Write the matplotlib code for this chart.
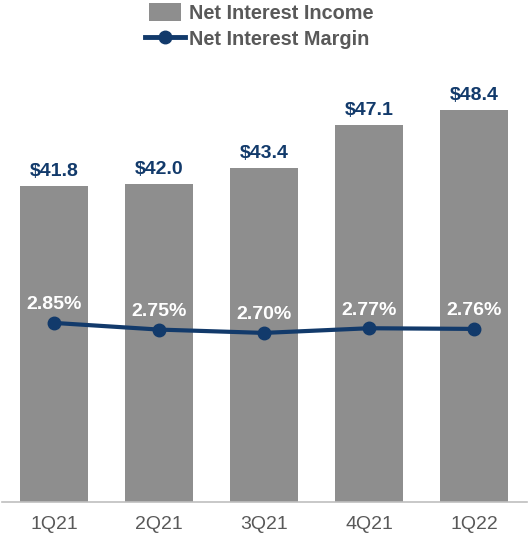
import matplotlib
matplotlib.use("Agg")
import matplotlib.pyplot as plt
from matplotlib.patches import Patch, Rectangle
from matplotlib.lines import Line2D
from matplotlib.legend_handler import HandlerPatch

quarters = ["1Q21", "2Q21", "3Q21", "4Q21", "1Q22"]
nii = [41.8, 42.0, 43.4, 47.1, 48.4]
nim = [2.85, 2.75, 2.70, 2.77, 2.76]
nii_labels = ["$41.8", "$42.0", "$43.4", "$47.1", "$48.4"]
nim_labels = ["2.85%", "2.75%", "2.70%", "2.77%", "2.76%"]

plt.rcParams['font.family'] = ['Liberation Sans', 'DejaVu Sans']

BAR = "#8E8E8E"
NAVY = "#123A6B"
TXT = "#595959"

fig = plt.figure(figsize=(5.31, 5.36), dpi=100)
ax = fig.add_axes([1.5/531, 34/536, 525/531, 442/536])
x = list(range(len(quarters)))
ax.bar(x, nii, width=0.65, color=BAR, zorder=1)
ax.set_xlim(-0.5, 4.5)
ax.set_ylim(14.37, 52.74)
for xi, v, lab in zip(x, nii, nii_labels):
    ax.annotate(lab, (xi, v), xytext=(0, 4), textcoords="offset points",
                ha="center", va="bottom", color=NAVY, fontsize=14, fontweight="bold")
ax.set_yticks([])
for s in ["top", "right", "left"]:
    ax.spines[s].set_visible(False)
ax.spines["bottom"].set_color("#BFBFBF")
ax.spines["bottom"].set_linewidth(1.2)
ax.set_xticks(x)
ax.set_xticklabels(quarters, color=TXT, fontsize=14)
ax.tick_params(axis="x", length=0, pad=10)

ax2 = ax.twinx()
ax2.set_ylim(0.166, 6.79)
ax2.plot(x, nim, color=NAVY, lw=3, marker="o", markersize=9, zorder=3)
for xi, v, lab in zip(x, nim, nim_labels):
    ax2.annotate(lab, (xi, v), xytext=(0, 7), textcoords="offset points",
                 ha="center", va="bottom", color="white", fontsize=14, fontweight="bold")
ax2.set_yticks([])
for s in ["top", "right", "left", "bottom"]:
    ax2.spines[s].set_visible(False)


def narrow_patch(legend, orig_handle, xdescent, ydescent, width, height, fontsize):
    w = width * 0.8
    return Rectangle((-xdescent + (width - w) / 2, -ydescent), w, height)


handles = [Patch(facecolor=BAR, edgecolor="none"),
           Line2D([0], [0], color=NAVY, lw=3.5, marker="o", markersize=9)]
fig.legend(handles, ["Net Interest Income", "Net Interest Margin"],
           loc="upper left", bbox_to_anchor=(145/531, 1 - 3/536), frameon=False,
           prop={"weight": "bold", "size": 14.3},
           handlelength=2.0, handleheight=1.0, handletextpad=0.2,
           labelspacing=0.35, borderaxespad=0, borderpad=0,
           labelcolor=TXT,
           handler_map={Patch: HandlerPatch(patch_func=narrow_patch)})

fig.savefig("out.png", dpi=100)
